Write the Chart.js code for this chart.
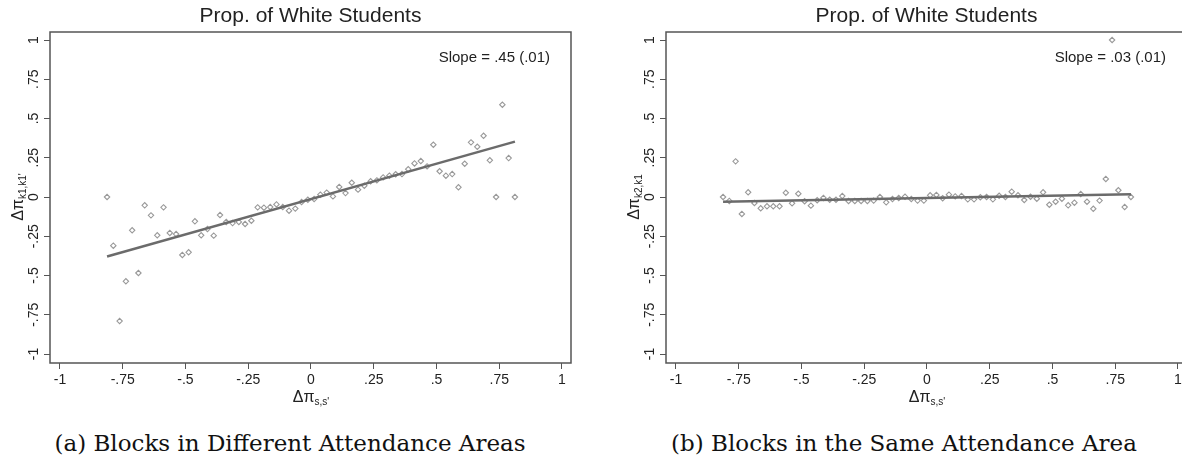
<!DOCTYPE html>
<html>
<head>
<meta charset="utf-8">
<script src="https://cdn.jsdelivr.net/npm/chart.js@4.4.1/dist/chart.umd.min.js"></script>
<style>
  html, body { margin: 0; padding: 0; background: #fff; width: 1182px; height: 464px; overflow: hidden; }
  .panel { position: absolute; top: 0; width: 590px; height: 410px; }
  .caption {
    position: absolute; top: 429px; line-height: 28px;
    font-family: "DejaVu Serif", serif; font-size: 23px; color: #111;
    white-space: nowrap; transform: translateX(-50%);
  }
</style>
</head>
<body>
<div class="panel" style="left:0"><canvas id="chart-a"></canvas></div>
<div class="panel" style="left:616px"><canvas id="chart-b"></canvas></div>
<div class="caption" style="left:290px">(a) Blocks in Different Attendance Areas</div>
<div class="caption" style="left:904px">(b) Blocks in the Same Attendance Area</div>
<script>
// bin midpoints of delta pi (s,s'), same bins in both panels
const xBins = [
    -0.8125, -0.7875, -0.7625, -0.7375, -0.7125, -0.6875, -0.6625, -0.6375, -0.6125, -0.5875, -0.5625,
    -0.5375, -0.5125, -0.4875, -0.4625, -0.4375, -0.4125, -0.3875, -0.3625, -0.3375, -0.3125, -0.2875,
    -0.2625, -0.2375, -0.2125, -0.1875, -0.1625, -0.1375, -0.1125, -0.0875, -0.0625, -0.0375, -0.0125,
    0.0125, 0.0375, 0.0625, 0.0875, 0.1125, 0.1375, 0.1625, 0.1875, 0.2125, 0.2375, 0.2625,
    0.2875, 0.3125, 0.3375, 0.3625, 0.3875, 0.4125, 0.4375, 0.4625, 0.4875, 0.5125, 0.5375,
    0.5625, 0.5875, 0.6125, 0.6375, 0.6625, 0.6875, 0.7125, 0.7375, 0.7625, 0.7875, 0.8125
];

// blocks in different attendance areas
const diffAreaY = [
    0.0, -0.31, -0.79, -0.537, -0.212, -0.484, -0.053, -0.117, -0.244, -0.066, -0.229,
    -0.236, -0.369, -0.352, -0.155, -0.244, -0.204, -0.246, -0.115, -0.159, -0.166, -0.159,
    -0.172, -0.151, -0.066, -0.068, -0.064, -0.047, -0.064, -0.087, -0.074, -0.032, -0.017,
    -0.013, 0.015, 0.028, 0.004, 0.064, 0.025, 0.091, 0.047, 0.072, 0.1, 0.106,
    0.125, 0.136, 0.145, 0.146, 0.177, 0.214, 0.229, 0.195, 0.333, 0.164, 0.136,
    0.146, 0.062, 0.212, 0.348, 0.32, 0.39, 0.234, 0.0, 0.588, 0.248, 0.0
];

// blocks in the same attendance area
const sameAreaY = [
    0.0, -0.025, 0.227, -0.108, 0.03, -0.038, -0.072, -0.059, -0.059, -0.059, 0.027,
    -0.04, 0.021, -0.027, -0.055, -0.021, -0.006, -0.017, -0.017, 0.006, -0.025, -0.025,
    -0.025, -0.025, -0.023, 0.0, -0.034, -0.013, -0.006, 0.002, -0.013, -0.023, -0.023,
    0.011, 0.013, -0.008, 0.015, 0.004, 0.006, -0.015, -0.015, -0.002, 0.0, -0.015,
    0.008, 0.0, 0.034, 0.011, -0.019, 0.002, -0.011, 0.03, -0.049, -0.03, -0.011,
    -0.053, -0.036, 0.019, -0.03, -0.075, -0.023, 0.115, 1.0, 0.043, -0.064, 0.0
];

// linear fits: [intercept, slope]
const fitDiff = [-0.013, 0.45];
const fitSame = [-0.0065, 0.03];

const axisTicks = [-1, -0.75, -0.5, -0.25, 0, 0.25, 0.5, 0.75, 1];
const axisTickLabels = ['-1', '-.75', '-.5', '-.25', '0', '.25', '.5', '.75', '1'];

const SANS = '"Liberation Sans", Arial, Helvetica, sans-serif';
const INK = '#222';
const FRAME = '#555';

function drawDeltaPi(ctx, sub, x, y, rotate) {
    ctx.save();
    ctx.translate(x, y);
    if (rotate) ctx.rotate(-Math.PI / 2);
    ctx.fillStyle = INK;
    ctx.textAlign = 'left';
    ctx.textBaseline = 'alphabetic';
    ctx.font = '16px ' + SANS;
    const mainW = ctx.measureText('Δπ').width;
    ctx.font = '10px ' + SANS;
    const subW = ctx.measureText(sub).width;
    const start = -(mainW + subW) / 2;
    ctx.font = '16px ' + SANS;
    ctx.fillText('Δπ', start, 6);
    ctx.font = '10px ' + SANS;
    ctx.fillText(sub, start + mainW, 9);
    ctx.restore();
}

// frame box, title, slope note and axis titles
const panelDecor = {
    id: 'panelDecor',
    afterDraw(chart, args, opts) {
        const { ctx, chartArea: ca, scales } = chart;
        ctx.save();
        ctx.strokeStyle = FRAME;
        ctx.lineWidth = 1.5;
        ctx.strokeRect(ca.left, ca.top, ca.right - ca.left, ca.bottom - ca.top);

        ctx.fillStyle = INK;
        ctx.textAlign = 'center';
        ctx.textBaseline = 'middle';
        ctx.font = '21px ' + SANS;
        ctx.fillText(opts.title, (ca.left + ca.right) / 2, 16);

        ctx.textAlign = 'right';
        ctx.font = '15px ' + SANS;
        ctx.fillText(opts.note, ca.right - 21, 58);
        ctx.restore();

        drawDeltaPi(ctx, 's,s\'', scales.x.getPixelForValue(0), 396, false);
        drawDeltaPi(ctx, opts.ySub, 17, scales.y.getPixelForValue(0), true);
    }
};

function fitLine(fit) {
    const x0 = xBins[0];
    const x1 = xBins[xBins.length - 1];
    return [
        { x: x0, y: fit[0] + fit[1] * x0 },
        { x: x1, y: fit[0] + fit[1] * x1 }
    ];
}

function makePanel(canvasId, yValues, fit, note, ySub) {
    const points = xBins.map((x, i) => ({ x: x, y: yValues[i] }));
    const tickLabel = (value) => axisTickLabels[axisTicks.indexOf(value)];
    const setTicks = (scale) => { scale.ticks = axisTicks.map(v => ({ value: v })); };

    return new Chart(document.getElementById(canvasId), {
        type: 'scatter',
        data: {
            datasets: [{
                type: 'line',
                data: fitLine(fit),
                borderColor: '#6b6b6b',
                borderWidth: 2.5,
                pointRadius: 0,
                fill: false,
                order: 0
            }, {
                data: points,
                pointStyle: 'rectRot',
                pointRadius: 2.7,
                pointBorderWidth: 1.1,
                pointBorderColor: '#999',
                pointBackgroundColor: 'rgba(255,255,255,0)',
                order: 1
            }]
        },
        options: {
            responsive: true,
            maintainAspectRatio: false,
            animation: false,
            events: [],
            layout: { padding: { top: 32, left: 14, right: 19, bottom: 19 } },
            plugins: {
                legend: { display: false },
                tooltip: { enabled: false },
                panelDecor: { title: 'Prop. of White Students', note: note, ySub: ySub }
            },
            scales: {
                x: {
                    type: 'linear',
                    min: -1.0398,
                    max: 1.0359,
                    bounds: 'data',
                    afterBuildTicks: setTicks,
                    afterFit: (scale) => { scale.height = 28; },
                    border: { display: false },
                    grid: { drawOnChartArea: false, drawTicks: true, tickLength: 6, color: FRAME, lineWidth: 1 },
                    ticks: {
                        callback: tickLabel,
                        autoSkip: false,
                        maxRotation: 0,
                        padding: 3,
                        color: INK,
                        font: { family: SANS, size: 14 }
                    }
                },
                y: {
                    type: 'linear',
                    min: -1.0573,
                    max: 1.051,
                    bounds: 'data',
                    afterBuildTicks: setTicks,
                    afterFit: (scale) => { scale.width = 36; },
                    border: { display: false },
                    grid: { drawOnChartArea: false, drawTicks: true, tickLength: 6, color: FRAME, lineWidth: 1 },
                    ticks: {
                        callback: tickLabel,
                        autoSkip: false,
                        minRotation: 90,
                        maxRotation: 90,
                        crossAlign: 'center',
                        padding: -2,
                        color: INK,
                        font: { family: SANS, size: 14 }
                    }
                }
            }
        },
        plugins: [panelDecor]
    });
}

makePanel('chart-a', diffAreaY, fitDiff, 'Slope = .45 (.01)', 'k1,k1\'');
makePanel('chart-b', sameAreaY, fitSame, 'Slope = .03 (.01)', 'k2,k1');
</script>
</body>
</html>
